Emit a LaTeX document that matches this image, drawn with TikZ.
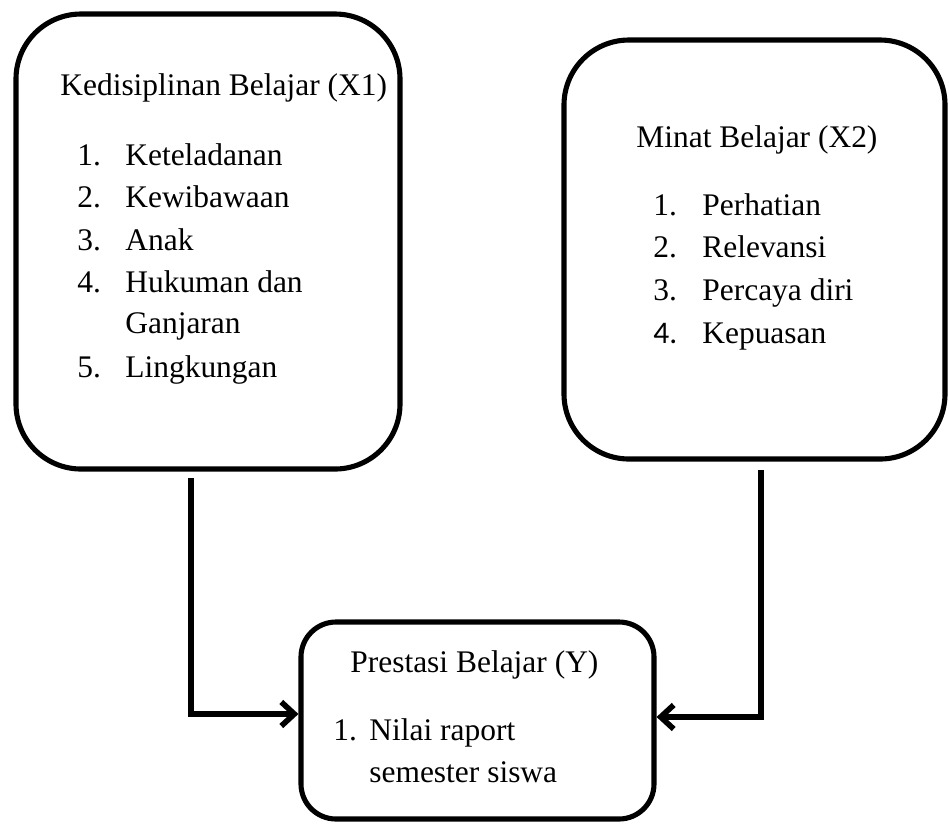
\documentclass[tikz,border=0pt]{standalone}
\usepackage{fontspec}
\setmainfont{Liberation Serif}
\newfontfamily\numfont{Carlito}
\usetikzlibrary{arrows.meta}

\begin{document}
\begin{tikzpicture}[scale=0.2]
            \tikzstyle{every node}+=[inner sep=0pt, font=\fontsize{17.9}{21}\selectfont]
            \tikzstyle{box}=[draw, black, line width=2.9pt, rounded corners=1.3cm]
            \tikzstyle{txt}=[anchor=base west]
            \tikzstyle{flow}=[black, line width=3.2pt, -{Straight Barb[length=2.6mm,width=4.8mm]}]
            \useasboundingbox (0,0) rectangle (94.9,-82.3);
            % boxes
            \node [box, minimum width=7.68cm, minimum height=9.1cm] (kd) at (20.8,-24.15) {};
            \node [box, minimum width=7.62cm, minimum height=8.38cm] (mb) at (75.45,-24.95) {};
            \node [box, rounded corners=0.7cm, minimum width=7.06cm, minimum height=3.94cm] (pb) at (47.75,-72.05) {};
            % Kedisiplinan Belajar
            \draw (6.0,-9.5) node [txt] (kdt) {Kedisiplinan Belajar (X1)};
            \draw (7.7,-16.5) node [txt] (kdn1) {1.};
            \draw (12.5,-16.5) node [txt] (kd1) {Keteladanan};
            \draw (7.7,-20.7) node [txt] (kdn2) {2.};
            \draw (12.5,-20.7) node [txt] (kd2) {Kewibawaan};
            \draw (7.7,-25.0) node [txt] (kdn3) {3.};
            \draw (12.5,-25.0) node [txt] (kd3) {Anak};
            \draw (7.7,-29.2) node [txt] (kdn4) {4.};
            \draw (12.5,-29.2) node [txt] (kd4) {Hukuman dan};
            \draw (12.5,-33.3) node [txt] (kd4b) {Ganjaran};
            \draw (7.7,-37.7) node [txt] (kdn5) {5.};
            \draw (12.5,-37.7) node [txt] (kd5) {Lingkungan};
            % Minat Belajar
            \draw (63.6,-14.7) node [txt] (mbt) {Minat Belajar (X2)};
            \draw (65.3,-21.5) node [txt] (mbn1) {1.};
            \draw (70.2,-21.5) node [txt] (mb1) {Perhatian};
            \draw (65.3,-25.7) node [txt] (mbn2) {2.};
            \draw (70.2,-25.7) node [txt] (mb2) {Relevansi};
            \draw (65.3,-30.0) node [txt] (mbn3) {3.};
            \draw (70.2,-30.0) node [txt] (mb3) {Percaya diri};
            \draw (65.3,-34.3) node [txt] (mbn4) {\numfont 4.};
            \draw (70.2,-34.3) node [txt] (mb4) {Kepuasan};
            % Prestasi Belajar
            \draw (35.0,-67.2) node [txt] (pbt) {Prestasi Belajar (Y)};
            \draw (33.3,-74.0) node [txt] (pbn1) {1.};
            \draw (36.9,-74.0) node [txt] (pb1) {Nilai raport};
            \draw (36.9,-78.2) node [txt] (pb1b) {semester siswa};
            % connectors
            \coordinate (kdout) at (19.1,-47.8);
            \coordinate (mbout) at (76.1,-47.0);
            \draw [flow] (kdout) |- ([yshift=0.65cm]pb.west);
            \draw [flow] (mbout) |- ([yshift=0.35cm]pb.east);
\end{tikzpicture}
\end{document}
